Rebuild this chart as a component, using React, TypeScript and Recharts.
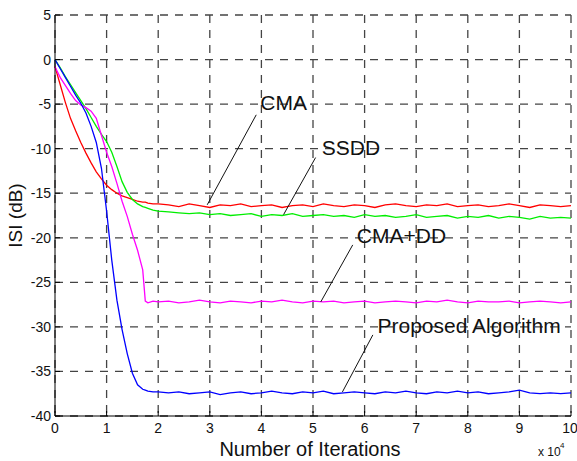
import { LineChart, Line, XAxis, YAxis, CartesianGrid, ReferenceLine, ReferenceDot } from 'recharts'

// iterations in units of 10^4
const iterations = [
  0, 0.1, 0.2, 0.3, 0.4, 0.5, 0.6, 0.7, 0.8, 0.9, 1.0, 1.1, 1.2, 1.3, 1.4, 1.5, 1.6, 1.7, 1.75, 1.8, 1.9, 2.0,
  2.2, 2.4, 2.6, 2.8, 3.0, 3.2, 3.4, 3.6, 3.8, 4.0, 4.2, 4.4, 4.6, 4.8, 5.0, 5.2, 5.4, 5.6, 5.8, 6.0,
  6.2, 6.4, 6.6, 6.8, 7.0, 7.2, 7.4, 7.6, 7.8, 8.0, 8.2, 8.4, 8.6, 8.8, 9.0, 9.2, 9.4, 9.6, 9.8, 10.0,
]

const cmaISI = [
  -0.8, -2.8, -4.8, -6.6, -8.0, -9.3, -10.5, -11.6, -12.6, -13.4, -14.1, -14.6, -15.0, -15.3, -15.5, -15.7, -15.9, -16.0, -16.0, -16.1, -16.2, -16.2,
  -16.3, -16.5, -16.2, -16.4, -16.6, -16.3, -16.4, -16.2, -16.5, -16.4, -16.3, -16.6, -16.4, -16.3, -16.5, -16.2, -16.4, -16.5, -16.3, -16.4,
  -16.6, -16.3, -16.2, -16.4, -16.5, -16.3, -16.4, -16.2, -16.5, -16.4, -16.3, -16.5, -16.4, -16.2, -16.4, -16.6, -16.3, -16.4, -16.5, -16.4,
]

const ssddISI = [
  0, -0.9, -1.9, -2.8, -3.7, -4.6, -5.5, -6.5, -7.5, -8.4, -9.2, -10.4, -12.0, -13.7, -14.9, -15.7, -16.2, -16.5, -16.6, -16.7, -16.9, -17.0,
  -17.1, -17.2, -17.3, -17.2, -17.4, -17.3, -17.5, -17.4, -17.3, -17.6, -17.4, -17.5, -17.3, -17.6, -17.5, -17.4, -17.6, -17.5, -17.7, -17.4,
  -17.6, -17.5, -17.7, -17.6, -17.4, -17.7, -17.6, -17.5, -17.8, -17.6, -17.7, -17.5, -17.8, -17.6, -17.7, -17.9, -17.6, -17.8, -17.7, -17.8,
]

const cmaddISI = [
  -0.8, -2.0, -2.9, -3.8, -4.6, -5.1, -5.4, -5.8, -6.6, -8.5, -10.4, -12.0, -13.9, -15.9, -17.6, -19.6, -21.4, -23.6, -27.1, -27.3, -27.1, -27.2,
  -27.1, -27.3, -27.2, -27.0, -27.2, -27.3, -27.1, -27.2, -27.3, -27.1, -27.2, -27.0, -27.2, -27.3, -27.1, -27.2, -27.1, -27.3, -27.2, -27.1,
  -27.3, -27.2, -27.1, -27.2, -27.3, -27.1, -27.2, -27.0, -27.2, -27.3, -27.1, -27.2, -27.2, -27.1, -27.3, -27.2, -27.1, -27.2, -27.3, -27.2,
]

const proposedISI = [
  0, -1.0, -2.0, -3.0, -4.0, -4.9, -6.0, -7.5, -9.3, -12.2, -17.0, -22.5, -27.0, -30.3, -33.0, -35.2, -36.5, -37.0, -37.1, -37.2, -37.3, -37.3,
  -37.4, -37.3, -37.5, -37.4, -37.3, -37.6, -37.4, -37.3, -37.5, -37.4, -37.2, -37.4, -37.5, -37.3, -37.4, -37.2, -37.5, -37.4, -37.3, -37.4,
  -37.5, -37.3, -37.4, -37.2, -37.4, -37.5, -37.3, -37.4, -37.2, -37.4, -37.3, -37.5, -37.4, -37.3, -37.1, -37.4, -37.5, -37.4, -37.5, -37.4,
]

const xTicks = [0, 1, 2, 3, 4, 5, 6, 7, 8, 9, 10]
const yTicks = [-40, -35, -30, -25, -20, -15, -10, -5, 0, 5]

// annotation text anchor and pointer line (data coords)
const annotations = [
  { text: 'CMA', at: { x: 3.98, y: -4.8 }, from: { x: 3.9, y: -6.2 }, to: { x: 2.95, y: -16.3 } },
  { text: 'SSDD', at: { x: 5.17, y: -9.9 }, from: { x: 5.05, y: -11.0 }, to: { x: 4.43, y: -17.4 } },
  { text: 'CMA+DD', at: { x: 5.85, y: -19.7 }, from: { x: 5.77, y: -20.8 }, to: { x: 5.15, y: -27.2 } },
  { text: 'Proposed Algorithm', at: { x: 6.25, y: -29.8 }, from: { x: 6.16, y: -30.9 }, to: { x: 5.57, y: -37.3 } },
]

const data = iterations.map((x, i) => ({
  x,
  cma: cmaISI[i],
  ssdd: ssddISI[i],
  cmadd: cmaddISI[i],
  proposed: proposedISI[i],
}))

const font = '"Liberation Sans", Arial, Helvetica, sans-serif'

function XAxisTitle(props: any) {
  const vb = props.viewBox || {}
  const cx = vb.x + vb.width / 2
  return (
    <g fontFamily={font} fill="#111">
      <text x={cx - 3} y={456} fontSize={20} textAnchor="middle">
        Number of Iterations
      </text>
      <text x={538} y={456} fontSize={12}>
        x 10
      </text>
      <text x={560} y={448} fontSize={8}>
        4
      </text>
    </g>
  )
}

export default function App() {
  return (
    <div style={{ width: 577, height: 461, fontFamily: font }}>
      <style>{'body{margin:0}'}</style>
      <LineChart width={577} height={461} data={data} margin={{ top: 15, right: 6, bottom: 0, left: 0 }}>
        <CartesianGrid stroke="#444" strokeDasharray="8 7" strokeWidth={1.3} />
        <XAxis
          dataKey="x"
          type="number"
          domain={[0, 10]}
          ticks={xTicks}
          height={45}
          stroke="#000"
          tickSize={-5}
          tickMargin={12}
          tick={{ fontSize: 14, fill: '#111', fontFamily: font }}
          label={<XAxisTitle />}
        />
        <XAxis xAxisId="t" type="number" orientation="top" domain={[0, 10]} ticks={xTicks} height={0} mirror tickSize={5} tick={false} stroke="#000" />
        <YAxis
          type="number"
          domain={[-40, 5]}
          ticks={yTicks}
          width={55}
          stroke="#000"
          tickSize={-5}
          tickMargin={9}
          tick={{ fontSize: 14, fill: '#111', fontFamily: font }}
          label={{ value: 'ISI (dB)', angle: -90, position: 'insideLeft', offset: 15, style: { textAnchor: 'middle', fontSize: 19, fill: '#111', fontFamily: font } }}
        />
        <YAxis yAxisId="r" type="number" orientation="right" domain={[-40, 5]} ticks={yTicks} width={0} mirror tickSize={5} tick={false} stroke="#000" />
        <Line dataKey="cma" stroke="#ff0000" strokeWidth={1.3} dot={false} isAnimationActive={false} />
        <Line dataKey="ssdd" stroke="#00ee00" strokeWidth={1.3} dot={false} isAnimationActive={false} />
        <Line dataKey="cmadd" stroke="#ff00ff" strokeWidth={1.3} dot={false} isAnimationActive={false} />
        <Line dataKey="proposed" stroke="#0000ff" strokeWidth={1.3} dot={false} isAnimationActive={false} />
        {annotations.map((a) => (
          <ReferenceLine key={a.text + '-l'} segment={[a.from, a.to]} stroke="#111" strokeWidth={1} />
        ))}
        {annotations.map((a) => (
          <ReferenceDot
            key={a.text + '-t'}
            x={a.at.x}
            y={a.at.y}
            r={0}
            fill="none"
            stroke="none"
            label={{ value: a.text, position: 'right', offset: 0, fontSize: 21, fill: '#111', fontFamily: font }}
          />
        ))}
      </LineChart>
    </div>
  )
}
